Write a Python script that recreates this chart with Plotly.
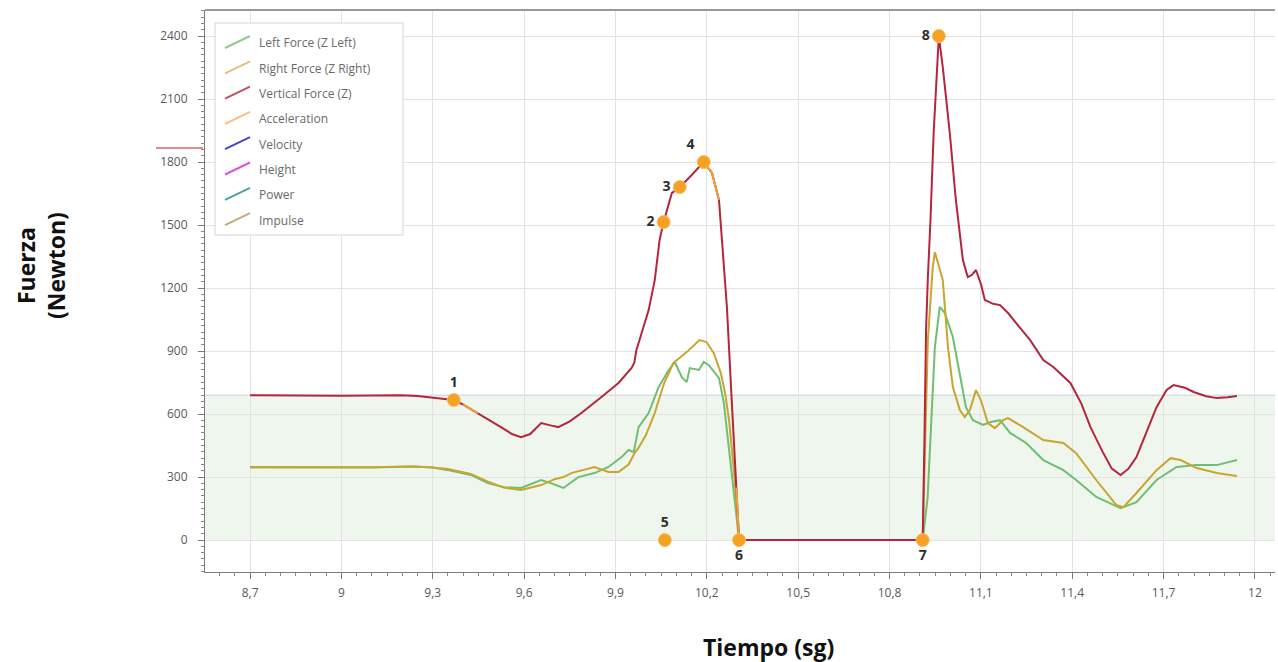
import plotly.graph_objects as go

# ---- series: vertical force (Z) ----
t_vertical = [8.70, 8.80, 8.90, 9.00, 9.10, 9.195, 9.25, 9.30, 9.369, 9.40, 9.448, 9.49,
              9.524, 9.56, 9.59, 9.62, 9.656, 9.69, 9.712, 9.75, 9.788, 9.854, 9.88, 9.91,
              9.953, 9.962, 9.968, 9.99, 10.009, 10.029, 10.045, 10.058, 10.085, 10.111,
              10.141, 10.19, 10.217, 10.24, 10.25, 10.266, 10.283, 10.297, 10.306, 10.5,
              10.7, 10.909, 10.915, 10.92, 10.926, 10.935, 10.945, 10.962, 10.975, 10.998,
              11.018, 11.041, 11.057, 11.07, 11.084, 11.10, 11.113, 11.14, 11.163, 11.19,
              11.216, 11.262, 11.305, 11.338, 11.394, 11.43, 11.46, 11.50, 11.53, 11.559,
              11.585, 11.611, 11.64, 11.677, 11.71, 11.733, 11.77, 11.799, 11.84, 11.875,
              11.91, 11.941]
f_vertical = [690, 689, 686, 687, 688, 690, 686, 678, 667, 645, 605, 570,
              538, 505, 490, 505, 557, 545, 538, 565, 605, 681, 714, 748,
              820, 845, 900, 1000, 1095, 1238, 1429, 1514, 1652, 1681,
              1724, 1800, 1748, 1619, 1429, 1110, 633, 250, 0, 0,
              0, 0, 500, 1000, 1250, 1538, 1940, 2400, 2252, 1938,
              1619, 1333, 1252, 1262, 1286, 1220, 1143, 1125, 1119, 1080,
              1033, 952, 857, 824, 748, 650, 538, 420, 340, 310,
              340, 395, 500, 633, 715, 738, 725, 705, 685, 676,
              680, 686]

# ---- series: left force (Z Left) ----
t_left = [8.70, 8.90, 9.10, 9.237, 9.30, 9.35, 9.425, 9.481, 9.534, 9.59, 9.656, 9.69,
          9.729, 9.778, 9.831, 9.877, 9.92, 9.943, 9.96, 9.976, 10.009, 10.042, 10.075,
          10.095, 10.118, 10.134, 10.144, 10.174, 10.19, 10.207, 10.24, 10.256, 10.273,
          10.289, 10.306, 10.6, 10.909, 10.925, 10.932, 10.949, 10.965, 10.982, 11.008,
          11.031, 11.051, 11.074, 11.107, 11.133, 11.163, 11.196, 11.249, 11.305, 11.371,
          11.413, 11.479, 11.559, 11.611, 11.677, 11.743, 11.809, 11.875, 11.941]
f_left = [348, 346, 347, 350, 345, 333, 310, 271, 252, 248, 286, 270,
          248, 300, 319, 348, 395, 429, 419, 538, 605, 729, 810,
          848, 776, 752, 819, 810, 848, 833, 771, 652, 443,
          224, 0, 0, 0, 200, 414, 919, 1110, 1081, 967,
          795, 633, 571, 548, 562, 571, 510, 462, 381, 333,
          286, 205, 152, 181, 286, 348, 357, 357, 381]

# ---- series: right force (Z Right) ----
t_right = [8.70, 8.90, 9.10, 9.237, 9.30, 9.35, 9.425, 9.481, 9.534, 9.59, 9.656, 9.70,
           9.729, 9.755, 9.80, 9.831, 9.877, 9.91, 9.943, 9.963, 9.976, 10.0, 10.029,
           10.06, 10.09, 10.134, 10.176, 10.199, 10.223, 10.246, 10.26, 10.273, 10.289,
           10.306, 10.6, 10.909, 10.926, 10.942, 10.949, 10.965, 10.975, 10.992, 11.008,
           11.031, 11.047, 11.064, 11.084, 11.10, 11.123, 11.146, 11.173, 11.189, 11.239,
           11.305, 11.371, 11.413, 11.479, 11.545, 11.568, 11.611, 11.677, 11.723, 11.756,
           11.809, 11.875, 11.941]
f_right = [345, 344, 346, 350, 346, 338, 315, 278, 250, 238, 262, 290,
           300, 319, 335, 348, 324, 324, 360, 414, 440, 500, 605,
           748, 843, 895, 952, 943, 890, 795, 700, 571, 333,
           0, 0, 0, 952, 1300, 1371, 1286, 1238, 919, 729,
           619, 586, 619, 714, 667, 557, 533, 571, 581, 538,
           476, 462, 414, 286, 167, 157, 224, 333, 390, 381,
           343, 319, 305]

# ---- highlighted phase segments (acceleration overlay) ----
t_highlight = [9.40, 9.448, None, 10.19, 10.217, 10.24, None, 10.297, 10.306]
f_highlight = [645, 605, None, 1800, 1748, 1619, None, 250, 0]

# ---- numbered events ----
event_t = [9.369, 10.058, 10.111, 10.19, 10.062, 10.306, 10.909, 10.962]
event_f = [667, 1514, 1681, 1800, 0, 0, 0, 2400]
event_labels = ["1", "2", "3", "4", "5", "6", "7", "8"]
event_text_pos = ["top center", "middle left", "middle left", "top left",
                  "top center", "bottom center", "bottom center", "middle left"]

# ---- axes ----
x_tick_values = [8.7, 9.0, 9.3, 9.6, 9.9, 10.2, 10.5, 10.8, 11.1, 11.4, 11.7, 12.0]
x_tick_labels = ["8,7", "9", "9,3", "9,6", "9,9", "10,2", "10,5", "10,8", "11,1", "11,4", "11,7", "12"]
y_tick_values = [0, 300, 600, 900, 1200, 1500, 1800, 2100, 2400]
y_tick_labels = ["0", "300", "600", "900", "1200", "1500", "1800", "2100", "2400"]
band_upper = 690      # shaded reference band, 0 .. body weight
threshold_force = 1867

legend_labels = ["Left Force (Z Left)", "Right Force (Z Right)", "Vertical Force (Z)",
                 "Acceleration", "Velocity", "Height", "Power", "Impulse"]
legend_colors = ["#8fcc8f", "#dcc27a", "#c0505f", "#f4c37e", "#4646c8",
                 "#dd55dd", "#45a59c", "#c8aa72"]

# ---- layout geometry ----
W, H = 1278, 662
M_L, M_R, M_T, M_B = 205, 3, 10, 90
PW, PH = W - M_L - M_R, H - M_T - M_B


def px_x(px):
    return (px - M_L) / PW


def px_y(py):
    return (H - M_B - py) / PH


COL_LEFT = "#6fbf72"
COL_RIGHT = "#c9a52e"
COL_VERT = "#b5253c"
COL_EVENT = "#f7a124"

fig = go.Figure()

fig.add_trace(go.Scatter(x=t_left, y=f_left, mode="lines",
                         line=dict(color=COL_LEFT, width=2), hoverinfo="skip"))
fig.add_trace(go.Scatter(x=t_right, y=f_right, mode="lines",
                         line=dict(color=COL_RIGHT, width=2), hoverinfo="skip"))
fig.add_trace(go.Scatter(x=t_vertical, y=f_vertical, mode="lines",
                         line=dict(color=COL_VERT, width=2), hoverinfo="skip"))
fig.add_trace(go.Scatter(x=t_highlight, y=f_highlight, mode="lines",
                         line=dict(color="#e9a33a", width=2), connectgaps=False,
                         hoverinfo="skip"))
fig.add_trace(go.Scatter(x=event_t, y=event_f, mode="markers+text",
                         text=[f"<b>{s}</b>" for s in event_labels],
                         textposition=event_text_pos,
                         textfont=dict(family="Open Sans", size=14, color="#2e2e2e"),
                         marker=dict(size=13, color=COL_EVENT,
                                     line=dict(color="#f9bf63", width=1)),
                         cliponaxis=False, hoverinfo="skip"))

shapes = [
    # shaded band
    dict(type="rect", xref="paper", yref="y", x0=0, x1=1, y0=0, y1=band_upper,
         fillcolor="#eff6ee", line=dict(width=0), layer="below"),
    dict(type="line", xref="paper", yref="y", x0=0, x1=1, y0=band_upper, y1=band_upper,
         line=dict(color="#c7d1dc", width=1), layer="below"),
    # top frame
    dict(type="line", xref="paper", yref="paper", x0=0, x1=1, y0=1, y1=1,
         line=dict(color="#9a9a9a", width=2)),
    # threshold marker beside the force axis
    dict(type="line", xref="paper", yref="y", x0=px_x(156), x1=px_x(203),
         y0=threshold_force, y1=threshold_force,
         line=dict(color="#e98b8b", width=2)),
    # legend box
    dict(type="rect", xref="paper", yref="paper",
         x0=px_x(215), x1=px_x(403), y0=px_y(235), y1=px_y(23),
         fillcolor="white", line=dict(color="#d4d4d4", width=1)),
]

annotations = []
for i, (lab, col) in enumerate(zip(legend_labels, legend_colors)):
    yc = 43 + 25.3 * i
    shapes.append(dict(type="line", xref="paper", yref="paper",
                       x0=px_x(225), x1=px_x(250), y0=px_y(yc + 5), y1=px_y(yc - 7),
                       line=dict(color=col, width=2)))
    annotations.append(dict(xref="paper", yref="paper", x=px_x(257), y=px_y(yc),
                            text=lab, showarrow=False, xanchor="left", yanchor="middle",
                            font=dict(family="Open Sans", size=12, color="#6a6a6a")))

annotations.append(dict(xref="paper", yref="paper", x=px_x(41), y=px_y(266),
                        text="<b>Fuerza<br>(Newton)</b>", textangle=-90, showarrow=False,
                        xanchor="center", yanchor="middle",
                        font=dict(family="Open Sans", size=23, color="#111111")))
annotations.append(dict(xref="paper", yref="paper", x=px_x(768), y=px_y(647),
                        text="<b>Tiempo (sg)</b>", showarrow=False,
                        xanchor="center", yanchor="middle",
                        font=dict(family="Open Sans", size=23, color="#111111")))

fig.update_layout(
    width=W, height=H,
    margin=dict(l=M_L, r=M_R, t=M_T, b=M_B),
    paper_bgcolor="white", plot_bgcolor="white",
    showlegend=False,
    shapes=shapes, annotations=annotations,
    xaxis=dict(range=[8.552, 12.066], tickvals=x_tick_values, ticktext=x_tick_labels,
               showgrid=True, gridcolor="#e2e2e2", gridwidth=1, zeroline=False,
               showline=True, linecolor="#7a7a7a", linewidth=1,
               ticks="outside", ticklen=6, tickcolor="#7a7a7a", ticklabelstandoff=4,
               tickfont=dict(family="Open Sans", size=12, color="#5a5a5a"),
               minor=dict(dtick=0.05, tick0=8.7, ticks="outside", ticklen=3,
                          tickcolor="#8a8a8a", showgrid=False)),
    yaxis=dict(range=[-152, 2524], tickvals=y_tick_values, ticktext=y_tick_labels,
               showgrid=True, gridcolor="#e2e2e2", gridwidth=1, zeroline=False,
               showline=True, linecolor="#7a7a7a", linewidth=1,
               ticks="outside", ticklen=6, tickcolor="#7a7a7a", ticklabelstandoff=8,
               tickfont=dict(family="Open Sans", size=12, color="#5a5a5a"),
               minor=dict(dtick=30, tick0=0, ticks="outside", ticklen=3,
                          tickcolor="#8a8a8a", showgrid=False)),
)

fig.write_html("out.html")
